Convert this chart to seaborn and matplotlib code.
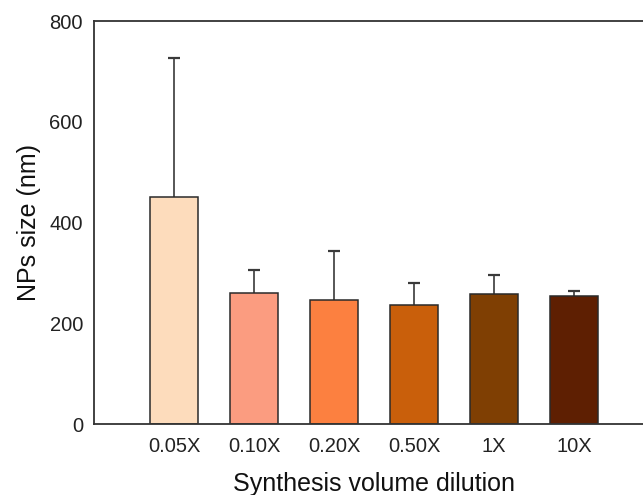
import matplotlib
matplotlib.use("Agg")
import matplotlib.pyplot as plt
import seaborn as sns
import pandas as pd
import numpy as np

categories = ["0.05X", "0.10X", "0.20X", "0.50X", "1X", "10X"]
sizes = [451, 260, 246, 236, 259, 255]
err_top = [726, 306, 344, 280, 296, 264.5]
colors = ["#FDDCBC", "#FB9C80", "#FC8040", "#C95F0B", "#7F3F03", "#5E1F02"]

sns.set_theme(style="white")
plt.rcParams['font.family'] = ['Liberation Sans', 'DejaVu Sans']

df = pd.DataFrame({"cat": categories, "size": sizes})

fig = plt.figure(figsize=(6.43, 4.95), dpi=100)
ax = fig.add_axes([0.1462, 0.1434, 0.871, 0.8141])

sns.barplot(data=df, x="cat", y="size", hue="cat", palette=colors, legend=False,
            width=0.6, saturation=1, edgecolor="#2a2a2a", linewidth=1.1,
            errorbar=None, ax=ax, zorder=2)

xpos = np.arange(len(categories))
ax.vlines(xpos, sizes, err_top, color="#3a3a3a", linewidth=1.2, zorder=1)
ax.hlines(err_top, xpos - 0.08, xpos + 0.08, color="#3a3a3a", linewidth=1.6, zorder=1)

ax.set_xlim(-1, 6)
ax.set_ylim(0, 800)
ax.set_yticks([0, 200, 400, 600, 800])
ax.set_xlabel("Synthesis volume dilution", fontsize=18, labelpad=12, color="#111111")
ax.set_ylabel("NPs size (nm)", fontsize=18, labelpad=6, color="#111111")
ax.tick_params(axis="x", length=0, pad=9, labelsize=14.5, labelcolor="#222222")
ax.tick_params(axis="y", direction="in", length=4, width=1, color="#333333",
               pad=8, labelsize=14.5, labelcolor="#222222")

for s in ["left", "bottom", "top", "right"]:
    ax.spines[s].set_visible(True)
    ax.spines[s].set_color("#333333")
    ax.spines[s].set_linewidth(1.3)

fig.savefig("out.png", dpi=100)
